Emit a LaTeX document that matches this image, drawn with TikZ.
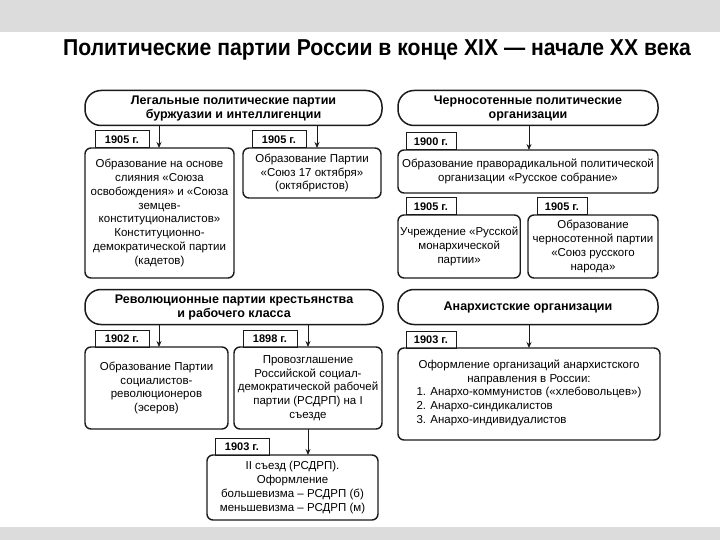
\documentclass[tikz,border=0pt]{standalone}
\usepackage{fontspec}
\setmainfont{Liberation Sans}
\newfontfamily\titlefont[FakeStretch=0.92]{Liberation Sans}
\usetikzlibrary{arrows.meta,positioning}
\definecolor{ink}{HTML}{1A1A1A}
\definecolor{band}{HTML}{DCDCDC}
\newcommand{\yg}[1]{#1 г.}

\begin{document}
\begin{tikzpicture}[x=1pt,y=-1pt,
  hdr/.style={draw=ink,line width=1.5pt,rounded corners=16pt,align=center,font=\fontsize{12.5}{14}\selectfont\bfseries,minimum height=35pt,outer sep=0pt},
  box/.style={draw=ink,line width=1.4pt,rounded corners=6pt,align=center,anchor=north west,font=\fontsize{11.5}{13.8}\selectfont,inner sep=2pt,outer sep=0pt},
  yr/.style={draw=ink,line width=1pt,font=\fontsize{11}{12}\selectfont\bfseries,minimum width=54pt,minimum height=17pt,inner sep=1pt,outer sep=0pt},
  ar/.style={-{Stealth[length=6pt,width=5pt]},line width=0.8pt,draw=ink}]
\fill[band] (0,0) rectangle (720,32);
\fill[band] (0,527) rectangle (720,540);
\useasboundingbox (0,0) rectangle (720,540);
\node[font=\fontsize{23}{26}\selectfont\titlefont\bfseries] (title) at (377,50) {Политические партии России в конце XIX — начале XX века};
\node[hdr,minimum width=297pt] (h1) at (233.5,108) {Легальные политические партии\\буржуазии и интеллигенции};
\node[hdr,minimum width=260pt] (h3) at (528,108) {Черносотенные политические\\организации};
\node[hdr,minimum width=298pt] (h2) at (234,307) {Революционные партии крестьянства\\и рабочего класса};
\node[hdr,minimum width=260pt] (h4) at (528,307) {Анархистские организации};
\node[box,minimum width=149pt,minimum height=130pt] (b1) at (85,148) {Образование на основе\\слияния «Союза\\освобождения» и «Союза\\земцев-\\конституционалистов»\\Конституционно-\\демократической партии\\(кадетов)};
\node[box,minimum width=138pt,minimum height=50pt] (b2) at (243,148) {Образование Партии\\«Союз 17 октября»\\(октябристов)};
\node[box,minimum width=260pt,minimum height=43pt] (r1) at (398,150) {Образование праворадикальной политической\\организации «Русское собрание»};
\node[box,minimum width=122pt,minimum height=63pt] (r2) at (398,215) {Учреждение «Русской\\монархической\\партии»};
\node[box,minimum width=130pt,minimum height=63pt] (r3) at (528,215) {Образование\\черносотенной партии\\«Союз русского\\народа»};
\node[box,minimum width=143pt,minimum height=82pt] (b3) at (85,347) {Образование Партии\\социалистов-\\революционеров\\(эсеров)};
\node[box,minimum width=148pt,minimum height=82pt] (b4) at (234,347) {Провозглашение\\Российской социал-\\демократической рабочей\\партии (РСДРП) на I\\съезде};
\node[box,minimum width=171pt,minimum height=65pt] (b5) at (207,455) {II съезд (РСДРП).\\Оформление\\большевизма – РСДРП (б)\\меньшевизма – РСДРП (м)};
\node[box,minimum width=262pt,minimum height=92pt] (r4) at (398,348) {Оформление организаций анархистского\\направления в России:\\\begin{tabular}{@{}l@{}}1. Анархо-коммунистов («хлебовольцев»)\\2. Анархо-синдикалистов\\3. Анархо-индивидуалистов\end{tabular}};
\node[yr,above right=0pt and 10pt of b1.north west] (t1) {\yg{1905}};
\node[yr,above right=0pt and 9pt of b2.north west] (t2) {\yg{1905}};
\node[yr,minimum width=50pt,above right=0pt and 8pt of r1.north west] (t3) {\yg{1900}};
\node[yr,minimum width=50pt,above right=0pt and 8pt of r2.north west] (t4) {\yg{1905}};
\node[yr,minimum width=50pt,above right=0pt and 9pt of r3.north west] (t5) {\yg{1905}};
\node[yr,above right=0pt and 10pt of b3.north west] (t6) {\yg{1902}};
\node[yr,above right=0pt and 9pt of b4.north west] (t7) {\yg{1898}};
\node[yr,above right=0pt and 8pt of b5.north west] (t8) {\yg{1903}};
\node[yr,minimum width=50pt,above right=0pt and 8pt of r4.north west] (t9) {\yg{1903}};
\coordinate (a1) at (159,0);
\coordinate (a2) at (317,0);
\coordinate (a3) at (529,0);
\coordinate (a4) at (308,0);
\draw[ar] (a1 |- h1.south) -- (a1 |- b1.north);
\draw[ar] (a2 |- h1.south) -- (a2 |- b2.north);
\draw[ar] (a3 |- h3.south) -- (a3 |- r1.north);
\draw[ar] (a1 |- h2.south) -- (a1 |- b3.north);
\draw[ar] (a4 |- h2.south) -- (a4 |- b4.north);
\draw[ar] (a4 |- b4.south) -- (a4 |- b5.north);
\draw[ar] (a3 |- h4.south) -- (a3 |- r4.north);
\end{tikzpicture}
\end{document}
